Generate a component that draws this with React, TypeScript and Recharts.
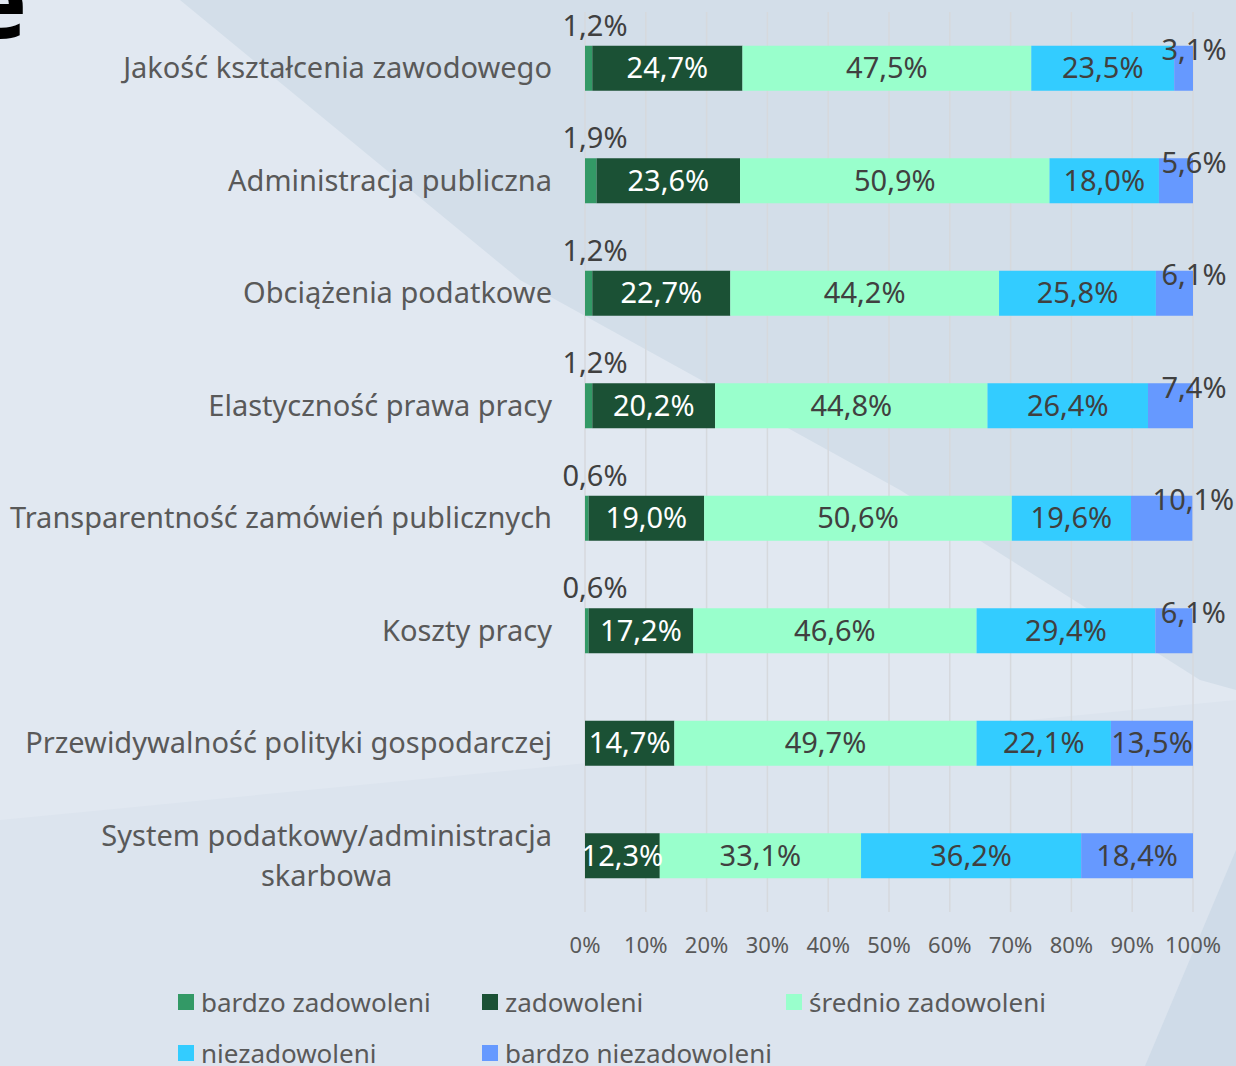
import { BarChart, Bar, XAxis, YAxis, CartesianGrid, LabelList } from "recharts";

const categories = [
  "Jakość kształcenia zawodowego",
  "Administracja publiczna",
  "Obciążenia podatkowe",
  "Elastyczność prawa pracy",
  "Transparentność zamówień publicznych",
  "Koszty pracy",
  "Przewidywalność polityki gospodarczej",
  "System podatkowy/administracja skarbowa",
];

const bardzoZadowoleni = [1.2, 1.9, 1.2, 1.2, 0.6, 0.6, 0, 0];
const zadowoleni = [24.7, 23.6, 22.7, 20.2, 19.0, 17.2, 14.7, 12.3];
const srednioZadowoleni = [47.5, 50.9, 44.2, 44.8, 50.6, 46.6, 49.7, 33.1];
const niezadowoleni = [23.5, 18.0, 25.8, 26.4, 19.6, 29.4, 22.1, 36.2];
const bardzoNiezadowoleni = [3.1, 5.6, 6.1, 7.4, 10.1, 6.1, 13.5, 18.4];

const xTicks = [0, 10, 20, 30, 40, 50, 60, 70, 80, 90, 100];

const FONT = "'Noto Sans', sans-serif";
const GREY = "#595959";
const DARK = "#404040";
const CAT_SIZE = 29;
const LABEL_SIZE = 29;

const series = [
  { key: "bz", name: "bardzo zadowoleni", color: "#339966", values: bardzoZadowoleni, text: DARK },
  { key: "z", name: "zadowoleni", color: "#1b5135", values: zadowoleni, text: "#ffffff" },
  { key: "sz", name: "średnio zadowoleni", color: "#99ffcc", values: srednioZadowoleni, text: DARK },
  { key: "n", name: "niezadowoleni", color: "#33ccff", values: niezadowoleni, text: DARK },
  { key: "bn", name: "bardzo niezadowoleni", color: "#6699ff", values: bardzoNiezadowoleni, text: DARK },
];

const data = categories.map((name, i) => {
  const row: Record<string, string | number> = { name };
  series.forEach((s) => (row[s.key] = s.values[i]));
  return row;
});

const fmt = (v: number) => `${v.toFixed(1).replace(".", ",")}%`;

let ctx: CanvasRenderingContext2D | null = null;
function measure(text: string, size: number) {
  if (!ctx) ctx = document.createElement("canvas").getContext("2d");
  if (!ctx) return text.length * size * 0.55;
  ctx.font = `${size}px ${FONT}`;
  return ctx.measureText(text).width;
}

function wrap(text: string, size: number, max: number) {
  const words = text.split(" ");
  const lines: string[] = [];
  let cur = "";
  words.forEach((w) => {
    const next = cur ? `${cur} ${w}` : w;
    if (cur && measure(next, size) > max) {
      lines.push(cur);
      cur = w;
    } else cur = next;
  });
  if (cur) lines.push(cur);
  return lines;
}

// eslint-disable-next-line @typescript-eslint/no-explicit-any
function CategoryTick({ x, y, payload }: any) {
  const lines = wrap(payload.value, CAT_SIZE, 550);
  if (lines.length === 1) {
    return (
      <text x={x} y={y} dy="0.35em" textAnchor="end" fontSize={CAT_SIZE} fill={GREY} fontFamily={FONT}>
        {lines[0]}
      </text>
    );
  }
  const w = Math.max(...lines.map((l) => measure(l, CAT_SIZE)));
  const lh = 40;
  const top = y - ((lines.length - 1) * lh) / 2;
  return (
    <text x={x - w / 2} y={top} textAnchor="middle" fontSize={CAT_SIZE} fill={GREY} fontFamily={FONT}>
      {lines.map((l, i) => (
        <tspan key={i} x={x - w / 2} y={top + i * lh} dy="0.35em">
          {l}
        </tspan>
      ))}
    </text>
  );
}

// small shares don't fit inside their segment, so they sit above the bar
// eslint-disable-next-line @typescript-eslint/no-explicit-any
const makeLabel = (idx: number) => (props: any) => {
  const { x, y, width, height, value } = props;
  if (!value) return null;
  const s = series[idx];
  let lx = x + width / 2;
  let ly = y + height / 2;
  if (idx === 0) {
    lx = x + 10;
    ly = y - 20;
  } else if (idx === 4 && value < 11) {
    lx = x + width + 1;
    ly = y + height / 2 - 18;
  }
  return (
    <text
      x={lx}
      y={ly}
      dy="0.35em"
      textAnchor="middle"
      fontSize={LABEL_SIZE}
      fill={s.text}
      fontFamily={FONT}
    >
      {fmt(value)}
    </text>
  );
};

function Background() {
  return (
    <svg width={1236} height={1066} style={{ position: "absolute", left: 0, top: 0 }}>
      <rect x={0} y={0} width={1236} height={1066} fill="#e1e8f1" />
      <polygon points="0,820 1236,700 1236,1066 0,1066" fill="#dce4ee" />
      <polygon points="180,0 520,280 900,490 1200,680 1236,690 1236,0" fill="#d3dee9" />
      <polygon points="1236,850 1236,1066 1145,1066" fill="#cfdbe8" />
      <text x={-32} y={38} fontSize={100} fontWeight={700} fill="#000" fontFamily="'Open Sans', sans-serif">
        e
      </text>
    </svg>
  );
}

function LegendBox() {
  const cols = [178, 482, 786];
  return (
    <>
      {series.map((s, i) => {
        const left = cols[i % 3];
        const top = i < 3 ? 984 : 1035;
        return (
          <div
            key={s.key}
            style={{
              position: "absolute",
              left,
              top,
              display: "flex",
              alignItems: "center",
              fontFamily: FONT,
              fontSize: 26,
              color: GREY,
              whiteSpace: "nowrap",
              lineHeight: "36px",
            }}
          >
            <span style={{ width: 16, height: 16, backgroundColor: s.color, marginRight: 7, display: "inline-block" }} />
            {s.name}
          </div>
        );
      })}
    </>
  );
}

export default function App() {
  return (
    <div style={{ position: "absolute", left: 0, top: 0, width: 1236, height: 1066, overflow: "hidden" }}>
      <Background />
      <div style={{ position: "absolute", left: 0, top: 0 }}>
        <BarChart
          layout="vertical"
          width={1236}
          height={1066}
          data={data}
          margin={{ top: 12, right: 43, bottom: 94, left: 0 }}
          barCategoryGap="30%"
        >
          <CartesianGrid horizontal={false} stroke="#d6d9dd" strokeWidth={1.5} />
          <XAxis
            type="number"
            domain={[0, 100]}
            ticks={xTicks}
            tickFormatter={(v) => `${v}%`}
            axisLine={false}
            tickLine={false}
            tickSize={0}
            tickMargin={25}
            height={60}
            tick={{ fill: GREY, fontSize: 22, fontFamily: FONT }}
            allowDataOverflow
          />
          <YAxis
            type="category"
            dataKey="name"
            width={585}
            axisLine={false}
            tickLine={false}
            tickSize={0}
            tickMargin={33}
            interval={0}
            tick={<CategoryTick />}
          />
          {series.map((s, i) => (
            <Bar key={s.key} dataKey={s.key} name={s.name} stackId="a" fill={s.color} isAnimationActive={false}>
              <LabelList dataKey={s.key} content={makeLabel(i)} />
            </Bar>
          ))}
        </BarChart>
      </div>
      <LegendBox />
    </div>
  );
}
